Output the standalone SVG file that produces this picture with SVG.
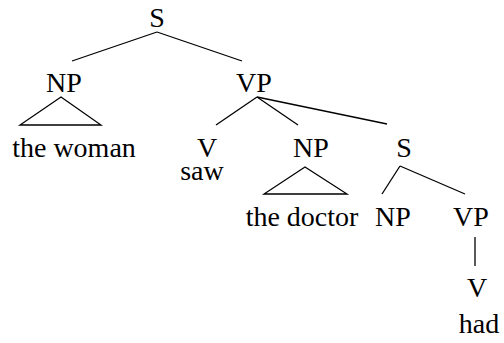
<svg xmlns="http://www.w3.org/2000/svg" width="504" height="343" viewBox="0 0 504 343">
  <style>
    .lbl { font-size: 28px; fill: #000; text-anchor: middle; }
    .edge { stroke: #000; stroke-width: 1.3; fill: none; }
  </style>
  <rect width="504" height="343" fill="#fff"/>
  <g id="connectors">
    <line class="edge" x1="157" y1="32" x2="72" y2="61"/>
    <line class="edge" x1="157" y1="32" x2="242" y2="61"/>
    <polygon class="edge" points="61,97 20,125 101,125"/>
    <line class="edge" x1="257" y1="97" x2="216" y2="125"/>
    <line class="edge" x1="257" y1="97" x2="298" y2="125"/>
    <line class="edge" x1="257" y1="97" x2="387" y2="124"/>
    <polygon class="edge" points="305,167 264,194 347,194"/>
    <line class="edge" x1="400" y1="166" x2="382" y2="194"/>
    <line class="edge" x1="400" y1="166" x2="465" y2="194"/>
    <line class="edge" x1="475" y1="237" x2="475" y2="266"/>
  </g>
  <g font-family="Liberation Serif, Times New Roman, serif">
    <g id="s-root"><text class="lbl" x="157" y="27">S</text></g>
    <g id="np-subj"><text class="lbl" x="64" y="92">NP</text></g>
    <g id="the-woman"><text class="lbl" x="74" y="157">the woman</text></g>
    <g id="vp-main"><text class="lbl" x="254" y="92">VP</text></g>
    <g id="v-main"><text class="lbl" x="207" y="157">V</text></g>
    <g id="saw"><text class="lbl" x="202" y="180">saw</text></g>
    <g id="np-obj"><text class="lbl" x="311" y="157">NP</text></g>
    <g id="the-doctor"><text class="lbl" x="302" y="226">the doctor</text></g>
    <g id="s-emb"><text class="lbl" x="404" y="157">S</text></g>
    <g id="np-emb"><text class="lbl" x="393" y="226">NP</text></g>
    <g id="vp-emb"><text class="lbl" x="471" y="226">VP</text></g>
    <g id="v-emb"><text class="lbl" x="477" y="297">V</text></g>
    <g id="had"><text class="lbl" x="479" y="333">had</text></g>
  </g>
</svg>
